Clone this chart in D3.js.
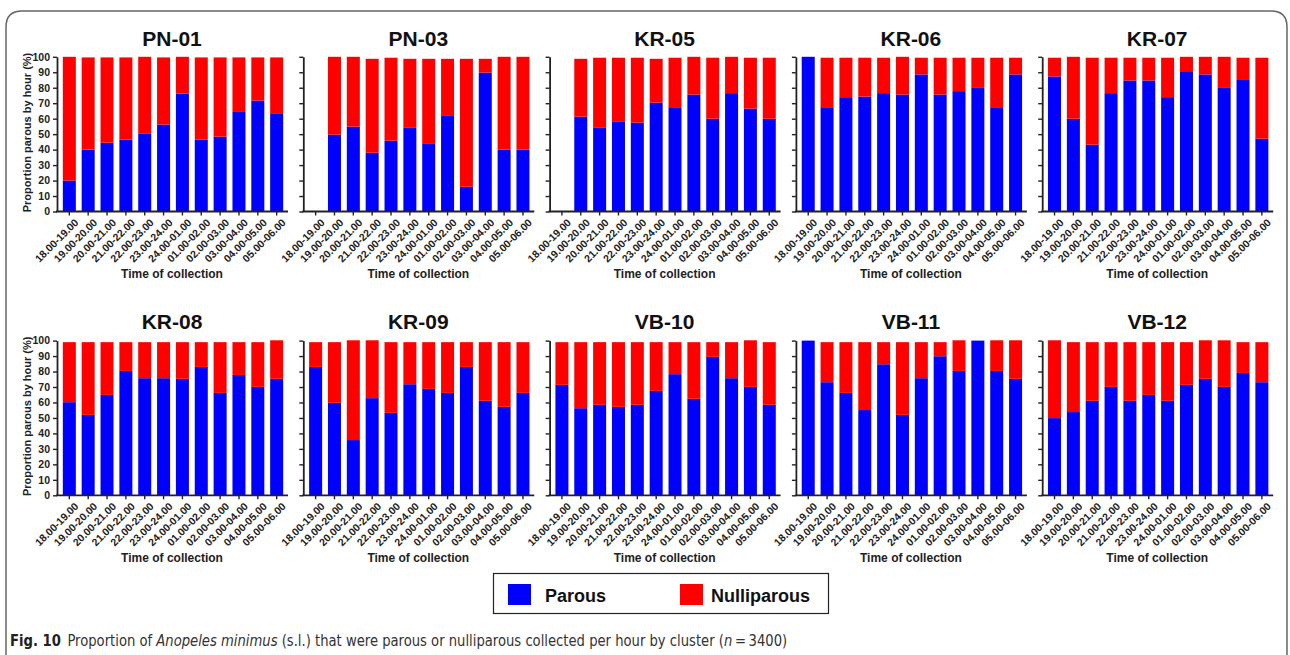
<!DOCTYPE html>
<html>
<head>
<meta charset="utf-8">
<script src="https://cdn.jsdelivr.net/npm/d3@7"></script>
<style>
body { margin: 0; background: #fff; }
svg { display: block; font-family: "Liberation Sans", Arial, sans-serif; }
</style>
</head>
<body>
<script>
var width = 1290,
    height = 655;

// collection hours (x categories)
var hours = ["18.00-19.00", "19.00-20.00", "20.00-21.00", "21.00-22.00", "22.00-23.00", "23.00-24.00",
             "24.00-01.00", "01.00-02.00", "02.00-03.00", "03.00-04.00", "04.00-05.00", "05.00-06.00"];

var clusters = ["PN-01", "PN-03", "KR-05", "KR-06", "KR-07", "KR-08", "KR-09", "VB-10", "VB-11", "VB-12"];

// % parous per hour, one row per cluster
var parous = [
    [20, 40, 44.5, 46.4, 50.5, 56.2, 76.2, 46.4, 48.4, 64.8, 71.7, 63.5],
    [0, 49.7, 54.9, 38.0, 45.8, 54.4, 44.1, 62.2, 16.0, 89.8, 40.0, 40.0],
    [0, 61.3, 54.4, 58.3, 57.5, 70.4, 67.4, 75.6, 60.0, 76.5, 66.5, 60.0],
    [100, 67.4, 73.9, 74.3, 76.5, 75.6, 88.6, 75.6, 77.8, 80.3, 67.4, 88.6],
    [87.3, 60.0, 43.2, 76.5, 84.7, 84.7, 73.9, 90.7, 88.6, 80.3, 85.5, 47.1],
    [60.2, 52.0, 64.9, 80.4, 75.7, 75.7, 75.3, 83.0, 66.2, 77.8, 70.1, 75.3],
    [83.0, 59.8, 35.7, 62.8, 53.3, 71.8, 68.8, 66.2, 83.0, 61.1, 57.2, 66.2],
    [71.4, 56.3, 58.5, 57.2, 58.5, 67.5, 78.3, 62.4, 89.5, 75.7, 70.1, 58.5],
    [100, 73.1, 66.2, 55.1, 84.7, 52.0, 75.7, 89.9, 80.4, 100, 80.4, 75.3],
    [49.9, 53.8, 61.1, 70.1, 61.1, 64.9, 61.1, 71.4, 75.3, 70.1, 79.1, 73.1]
];

// % nulliparous per hour, stacked on top
var nulliparous = [
    [80, 59.6, 55.1, 53.2, 49.5, 43.4, 23.8, 53.2, 51.2, 34.8, 27.9, 36.1],
    [0, 50.3, 45.1, 60.7, 53.6, 44.3, 54.6, 36.5, 82.7, 8.9, 60.0, 60.0],
    [0, 37.4, 45.0, 41.1, 41.9, 28.3, 32.0, 24.4, 39.4, 23.5, 32.9, 39.4],
    [0, 32.0, 25.5, 25.1, 22.9, 24.4, 10.8, 23.8, 21.6, 19.1, 32.0, 10.8],
    [12.1, 40.0, 56.2, 22.9, 14.7, 14.7, 25.5, 9.3, 11.4, 19.7, 13.9, 52.3],
    [38.8, 47.0, 34.1, 18.6, 23.3, 23.3, 23.7, 16.0, 32.8, 21.2, 28.9, 24.9],
    [16.0, 39.2, 64.5, 37.4, 45.7, 27.2, 30.2, 32.8, 16.0, 37.9, 41.8, 32.8],
    [27.6, 42.7, 40.5, 41.8, 40.5, 31.5, 20.7, 36.6, 9.5, 23.3, 30.1, 40.5],
    [0, 25.9, 32.8, 43.9, 14.3, 47.0, 23.3, 9.1, 19.8, 0, 19.8, 24.9],
    [50.3, 45.2, 37.9, 28.9, 37.9, 34.1, 37.9, 27.6, 24.9, 30.1, 19.9, 25.9]
];

var seriesNames = ["Parous", "Nulliparous"];
var seriesColors = ["#0000ff", "#ff0000"];
var yTicks = [0, 10, 20, 30, 40, 50, 60, 70, 80, 90, 100];

var svg = d3.select("body").append("svg")
    .attr("width", width)
    .attr("height", height)
    .style("background", "#fff");

// rounded frame
svg.append("path")
    .attr("d", "M6,670V27Q6,11 22,11H1271Q1287,11 1287,27V670")
    .attr("fill", "none")
    .attr("stroke", "#666")
    .attr("stroke-width", 1.5);

var color = d3.scaleOrdinal().domain(seriesNames).range(seriesColors);
var stack = d3.stack().keys(seriesNames);

var rowBase = [211.5, 495.3],
    plotH = 154.7,
    plotW = 231;

clusters.forEach(function(name, i) {
    var col = i % 5,
        row = Math.floor(i / 5),
        ax = 57 + col * 246.3,
        y0 = rowBase[row];

    var x = d3.scaleBand()
        .domain(hours)
        .range([ax + 3, ax + 229])
        .paddingInner(0.31)
        .paddingOuter(0.15);

    var y = d3.scaleLinear()
        .domain([0, 100])
        .range([y0, y0 - plotH]);

    var rows = hours.map(function(h, j) {
        return { hour: h, Parous: parous[i][j], Nulliparous: nulliparous[i][j] };
    });

    var g = svg.append("g").attr("class", "panel");

    g.selectAll("g.layer")
        .data(stack(rows))
        .enter().append("g")
        .attr("class", "layer")
        .attr("fill", function(d) { return color(d.key); })
        .selectAll("rect")
        .data(function(d) { return d; })
        .enter().append("rect")
        .attr("x", function(d) { return x(d.data.hour); })
        .attr("y", function(d) { return y(d[1]); })
        .attr("width", x.bandwidth())
        .attr("height", function(d) { return y(d[0]) - y(d[1]); });

    // y axis
    var ya = g.append("g")
        .attr("transform", "translate(" + ax + ",0)")
        .call(d3.axisLeft(y).tickValues(yTicks).tickSize(4).tickSizeOuter(0).tickPadding(3)
            .tickFormat(col == 0 ? d3.format("d") : ""));
    ya.select(".domain").attr("stroke", "#222").attr("stroke-width", 1.8);
    ya.selectAll(".tick line").attr("stroke", "#222").attr("stroke-width", 1.4);
    ya.selectAll("text")
        .attr("fill", "#222")
        .style("font-size", "10.5px")
        .style("font-weight", "bold");

    // x axis
    var xa = g.append("g")
        .attr("transform", "translate(0," + y0 + ")")
        .call(d3.axisBottom(x).tickSize(4).tickSizeOuter(0));
    xa.select(".domain").remove();
    xa.append("line")
        .attr("x1", ax - 1)
        .attr("x2", ax + plotW)
        .attr("stroke", "#222")
        .attr("stroke-width", 1.8);
    xa.selectAll(".tick line").attr("stroke", "#222").attr("stroke-width", 1.4);
    xa.selectAll("text")
        .attr("x", null)
        .attr("y", null)
        .attr("dy", "0.71em")
        .attr("transform", "translate(4.5,6.5)rotate(-45)")
        .style("text-anchor", "end")
        .attr("fill", "#222")
        .style("font-size", "10.5px")
        .style("font-weight", "bold");

    g.append("text")
        .attr("x", ax + 115)
        .attr("y", y0 + 66.5)
        .attr("text-anchor", "middle")
        .style("font-size", "12px")
        .style("font-weight", "bold")
        .attr("fill", "#222")
        .text("Time of collection");

    g.append("text")
        .attr("x", ax + 115)
        .attr("y", y0 - 166)
        .attr("text-anchor", "middle")
        .style("font-size", "21px")
        .style("font-weight", "bold")
        .attr("fill", "#111")
        .text(name);

    if (col == 0) {
        g.append("text")
            .attr("transform", "translate(31," + (y0 - 79) + ")rotate(-90)")
            .attr("text-anchor", "middle")
            .style("font-size", "11px")
            .style("font-weight", "bold")
            .attr("fill", "#222")
            .text("Proportion parous by hour (%)");
    }
});

// legend
var legend = svg.append("g");
legend.append("rect")
    .attr("x", 493.5)
    .attr("y", 573.5)
    .attr("width", 335)
    .attr("height", 40)
    .attr("fill", "#fff")
    .attr("stroke", "#222")
    .attr("stroke-width", 1.2);

var items = legend.selectAll("g.item")
    .data(seriesNames)
    .enter().append("g")
    .attr("transform", function(d, i) { return "translate(" + [508 + i * 172, 584] + ")"; });

items.append("rect")
    .attr("width", 23)
    .attr("height", 21)
    .attr("fill", function(d) { return color(d); });

items.append("text")
    .attr("x", function(d, i) { return i ? 31 : 37; })
    .attr("y", 18)
    .style("font-size", "18px")
    .style("font-weight", "bold")
    .attr("fill", "#111")
    .text(function(d) { return d; });

// caption (narrowed to match the condensed journal font)
var cap = svg.append("text")
    .attr("transform", "translate(10,646)scale(0.915,1)")
    .style("font-family", "'Liberation Sans Narrow', 'DejaVu Sans Condensed', sans-serif")
    .style("font-size", "16px")
    .attr("fill", "#333");
cap.append("tspan").style("font-weight", "bold").attr("fill", "#222").text("Fig. 10");
cap.append("tspan").text("\u2002Proportion of ");
cap.append("tspan").style("font-style", "italic").text("Anopeles minimus");
cap.append("tspan").text(" (s.l.) that were parous or nulliparous collected per hour by cluster (");
cap.append("tspan").style("font-style", "italic").text("n");
cap.append("tspan").text("\u2009=\u20093400)");
</script>
</body>
</html>
